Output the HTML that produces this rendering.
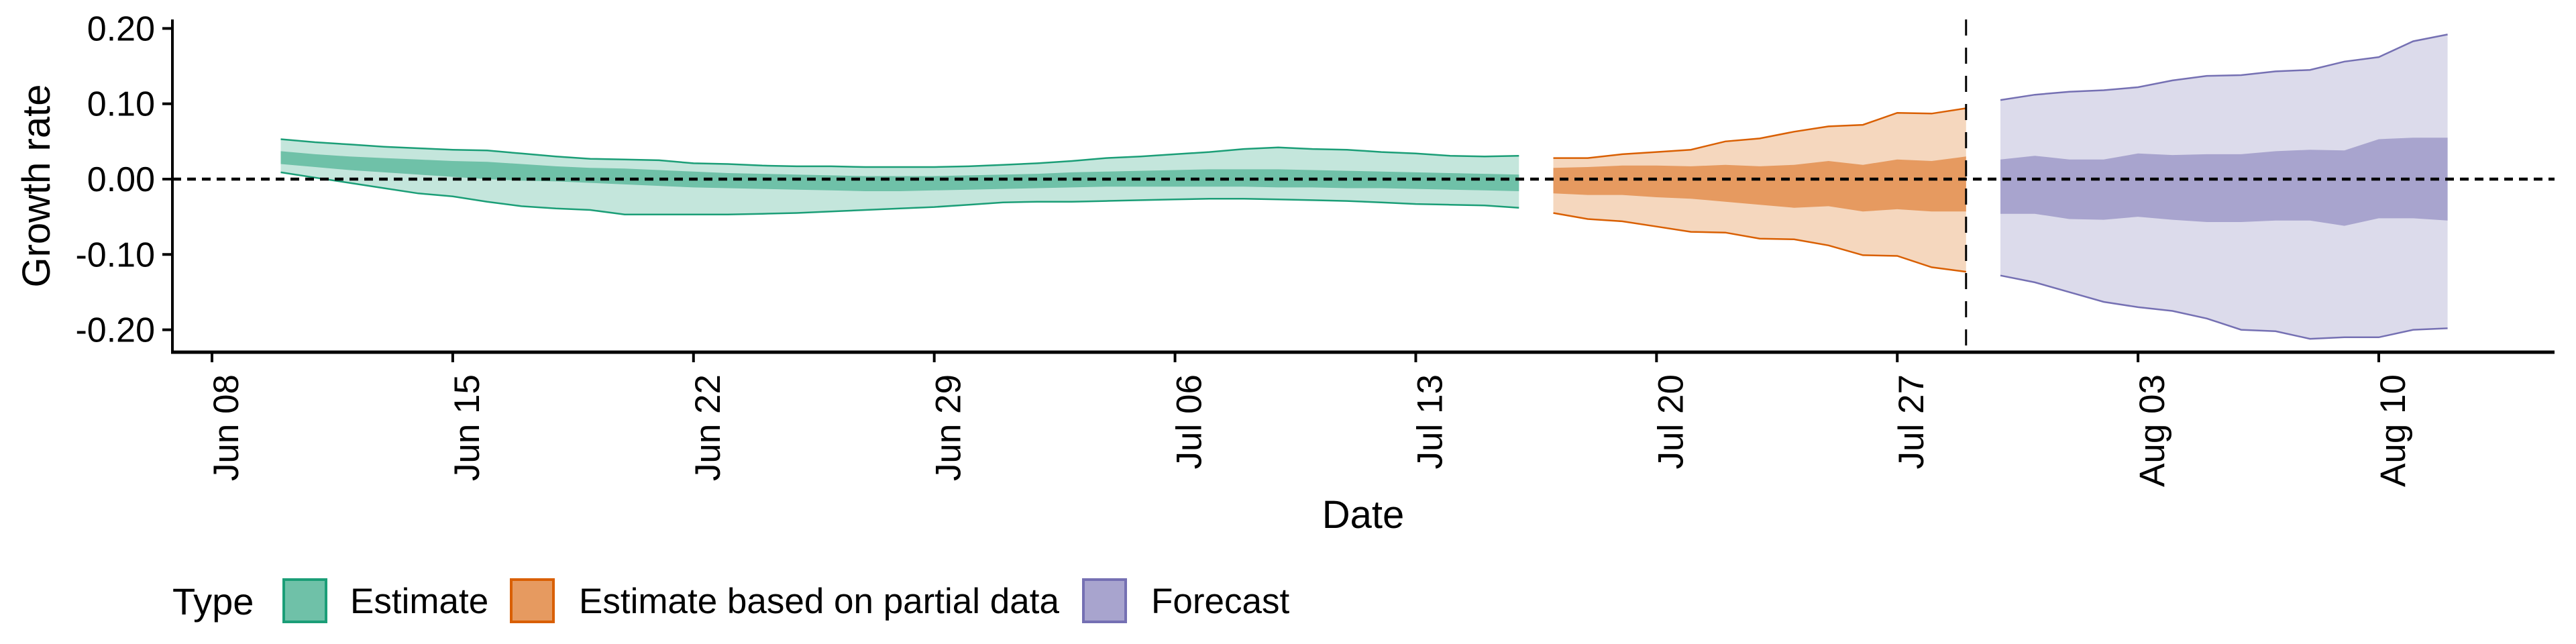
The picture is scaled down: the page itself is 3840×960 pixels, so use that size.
<!DOCTYPE html>
<html><head><meta charset="utf-8"><style>
html,body{margin:0;padding:0;background:#fff;}
svg{display:block;font-family:"Liberation Sans",sans-serif;}
</style></head><body>
<svg id="chart" width="3840" height="960" viewBox="0 0 3840 960">
<g id="plot"></g>
</svg>
<script>
const estDays=[2,3,4,5,6,7,8,9,10,11,12,13,14,15,16,17,18,19,20,21,22,23,24,25,26,27,28,29,30,31,32,33,34,35,36,37,38];
const estUpper=[.053,.049,.046,.043,.041,.039,.038,.034,.030,.027,.026,.025,.021,.020,.018,.017,.017,.016,.016,.016,.017,.019,.021,.024,.028,.030,.033,.036,.040,.042,.040,.039,.036,.034,.031,.030,.031];
const estLower=[.009,.002,-.005,-.012,-.019,-.023,-.030,-.036,-.039,-.041,-.047,-.047,-.047,-.047,-.046,-.045,-.043,-.041,-.039,-.037,-.034,-.031,-.030,-.030,-.029,-.028,-.027,-.026,-.026,-.027,-.028,-.029,-.031,-.033,-.034,-.035,-.038];
const estInnerUpper=[.037,.033,.030,.028,.026,.024,.023,.020,.017,.015,.014,.012,.010,.008,.007,.006,.005,.004,.004,.004,.005,.006,.007,.009,.010,.011,.012,.013,.013,.013,.012,.011,.010,.009,.008,.007,.006];
const estInnerLower=[.020,.016,.012,.009,.006,.003,.000,-.002,-.003,-.005,-.007,-.009,-.011,-.012,-.013,-.014,-.015,-.016,-.016,-.015,-.014,-.013,-.012,-.011,-.010,-.010,-.010,-.010,-.010,-.011,-.011,-.012,-.012,-.013,-.014,-.015,-.016];
const partDays=[39,40,41,42,43,44,45,46,47,48,49,50,51];
const partUpper=[.028,.028,.033,.036,.039,.050,.054,.063,.070,.072,.088,.087,.094];
const partLower=[-.045,-.053,-.056,-.063,-.070,-.071,-.079,-.080,-.088,-.101,-.102,-.117,-.123];
const partInnerUpper=[.015,.016,.018,.018,.017,.019,.017,.019,.024,.019,.026,.024,.030];
const partInnerLower=[-.019,-.021,-.021,-.024,-.026,-.030,-.034,-.038,-.036,-.043,-.040,-.043,-.043];
const fcDays=[52,53,54,55,56,57,58,59,60,61,62,63,64,65];
const fcUpper=[.105,.112,.116,.118,.122,.131,.137,.138,.143,.145,.156,.162,.183,.192];
const fcLower=[-.128,-.137,-.150,-.163,-.170,-.175,-.185,-.200,-.202,-.212,-.210,-.210,-.200,-.198];
const fcInnerUpper=[.026,.031,.026,.026,.034,.032,.033,.033,.037,.039,.038,.053,.055,.055];
const fcInnerLower=[-.046,-.046,-.053,-.054,-.050,-.054,-.057,-.057,-.055,-.055,-.062,-.052,-.052,-.055];
const yTicks=[0.2,0.1,0,-0.1,-0.2];
const yTickLabels=["0.20","0.10","0.00","-0.10","-0.20"];
const xTickDays=[0,7,14,21,28,35,42,49,56,63];
const xTickLabels=["Jun 08","Jun 15","Jun 22","Jun 29","Jul 06","Jul 13","Jul 20","Jul 27","Aug 03","Aug 10"];
const forecastStartDay=51;

const NS="http://www.w3.org/2000/svg";
const svg=document.getElementById('chart');
const plot=document.getElementById('plot');
const X0=257,X1=3808,YT=29,YB=525;
const x=d=>316+d*51.27;
const y=v=>267-v*1123;
function el(tag,attrs,parent){const e=document.createElementNS(NS,tag);for(const k in attrs)e.setAttribute(k,attrs[k]);(parent||svg).appendChild(e);return e;}
function band(days,up,lo){let p='M'+days.map((d,i)=>x(d).toFixed(1)+','+y(up[i]).toFixed(1)).join('L');for(let i=days.length-1;i>=0;i--)p+='L'+x(days[i]).toFixed(1)+','+y(lo[i]).toFixed(1);return p+'Z';}
function line(days,vals){return 'M'+days.map((d,i)=>x(d).toFixed(1)+','+y(vals[i]).toFixed(1)).join('L');}
const series=[
 ['estimate',estDays,estUpper,estLower,estInnerUpper,estInnerLower,'#c4e6dc','#6fc1a8','#1b9e77'],
 ['partial',partDays,partUpper,partLower,partInnerUpper,partInnerLower,'#f5d7be','#e69a60','#d95f02'],
 ['forecast',fcDays,fcUpper,fcLower,fcInnerUpper,fcInnerLower,'#dcdbeb','#a8a4ce','#7570b3']];
series.forEach(s=>{
 const g=el('g',{},plot);
 
 
 const o=el('path',{d:band(s[1],s[2],s[3]),fill:s[6]},g);
 
 
 const i=el('path',{d:band(s[1],s[4],s[5]),fill:s[7]},g);
 
 
 const u=el('path',{d:line(s[1],s[2]),fill:'none',stroke:s[8],'stroke-width':2.5},g);
 
 
 const l=el('path',{d:line(s[1],s[3]),fill:'none',stroke:s[8],'stroke-width':2.5},g);
 
 
});
const zl=el('line',{x1:X0,x2:X1,y1:y(0),y2:y(0),stroke:'#000','stroke-width':4.5,'stroke-dasharray':'13 9'});


const vl=el('line',{x1:x(forecastStartDay),x2:x(forecastStartDay),y1:YT,y2:YB,stroke:'#000','stroke-width':3,'stroke-dasharray':'24 18'});


const ya=el('line',{x1:X0,x2:X0,y1:YT,y2:YB+2,stroke:'#000','stroke-width':4});


const xa=el('line',{x1:X0-2,x2:X1,y1:YB,y2:YB,stroke:'#000','stroke-width':5});


yTicks.forEach((v,k)=>{
 const t=el('line',{x1:X0-15,x2:X0,y1:y(v),y2:y(v),stroke:'#000','stroke-width':4});
 
 
 const tx=el('text',{x:X0-26,y:y(v)+18,'text-anchor':'end','font-size':52,fill:'#000'});
 tx.textContent=yTickLabels[k];
 
 
});
xTickDays.forEach((d,k)=>{
 const t=el('line',{x1:x(d),x2:x(d),y1:YB,y2:YB+15,stroke:'#000','stroke-width':4});
 
 
 const tx=el('text',{transform:`translate(${x(d)+39},558) rotate(-90)`,'text-anchor':'end','font-size':53,fill:'#000'});
 tx.textContent=xTickLabels[k];
 
 
});
</script>
<div style="position:absolute;left:0;top:0;width:3840px;height:960px;pointer-events:none;">
<svg width="3840" height="960" style="position:absolute;left:0;top:0;font-family:'Liberation Sans',sans-serif;">
<text x="74" y="277" transform="rotate(-90 74 277)" text-anchor="middle" font-size="58">Growth rate</text>
<text x="2032" y="787" text-anchor="middle" font-size="58">Date</text>
<g>
<text x="257" y="916" font-size="56">Type</text>
<g>
<rect x="423" y="864" width="63" height="63" fill="#6fc1a8" stroke="#1b9e77" stroke-width="4"/>
<text x="522" y="914" font-size="53">Estimate</text></g>
<g>
<rect x="762" y="864" width="63" height="63" fill="#e69a60" stroke="#d95f02" stroke-width="4"/>
<text x="863" y="914" font-size="53">Estimate based on partial data</text></g>
<g>
<rect x="1615" y="864" width="63" height="63" fill="#a8a4ce" stroke="#7570b3" stroke-width="4"/>
<text x="1716" y="914" font-size="53">Forecast</text></g>
</g>
</svg></div>
</body></html>
